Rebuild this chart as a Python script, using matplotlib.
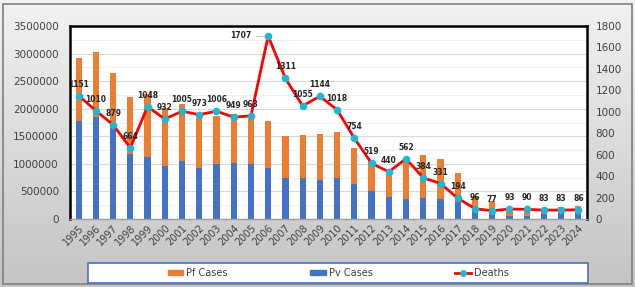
import matplotlib
matplotlib.use("Agg")
import matplotlib.pyplot as plt
import numpy as np
from matplotlib.patches import Rectangle, Patch
from matplotlib.lines import Line2D
from matplotlib.ticker import FuncFormatter
from matplotlib.colors import LinearSegmentedColormap

years = [str(y) for y in range(1995, 2025)]
pv_cases = [1780000, 1850000, 1650000, 1180000, 1130000, 970000, 1060000, 930000, 1000000, 1010000,
            1000000, 930000, 750000, 740000, 710000, 750000, 630000, 510000, 400000, 360000,
            380000, 360000, 300000, 200000, 110000, 60000, 50000, 85000, 100000, 100000]
total_cases = [2920000, 3030000, 2650000, 2210000, 2270000, 2020000, 2080000, 1830000, 1860000, 1900000,
               1810000, 1780000, 1500000, 1520000, 1550000, 1580000, 1290000, 1050000, 840000, 1080000,
               1160000, 1080000, 830000, 420000, 330000, 190000, 180000, 160000, 210000, 240000]
pf_cases = [t - v for t, v in zip(total_cases, pv_cases)]
deaths = [1151, 1010, 879, 664, 1048, 932, 1005, 973, 1006, 949, 963, 1707, 1311, 1055, 1144,
          1018, 754, 519, 440, 562, 384, 331, 194, 96, 77, 93, 90, 83, 83, 86]

W, H = 635, 287
fig = plt.figure(figsize=(W / 100, H / 100), dpi=100)

bg = fig.add_axes([0, 0, 1, 1], zorder=-10)
grad = np.linspace(0, 1, 256).reshape(-1, 1)
cm = LinearSegmentedColormap.from_list("g", ["#f2f2f2", "#c4c4c4"])
bg.imshow(grad, aspect="auto", cmap=cm, extent=[0, 1, 0, 1], origin="upper")
bg.set_xlim(0, 1); bg.set_ylim(0, 1)
bg.axis("off")
bg.add_patch(Rectangle((3 / W, 3 / H), 629 / W, 280 / H, fill=False, edgecolor="#7f7f7f", lw=1.2,
                       transform=bg.transAxes))
bg.add_patch(Rectangle((88 / W, 4 / H), 500 / W, 20 / H, facecolor="white", edgecolor="#4472C4", lw=1.2,
                       transform=bg.transAxes))

ax = fig.add_axes([70 / W, (H - 219) / H, (587 - 70) / W, (219 - 26) / H])
ax.set_facecolor("white")
x = np.arange(len(years))
ax.bar(x, pv_cases, width=0.36, color="#4472C4", zorder=2)
ax.bar(x, pf_cases, width=0.36, bottom=pv_cases, color="#ED7D31", zorder=2)
ax.set_ylim(0, 3500000)
ax.set_xlim(-0.5, len(years) - 0.5)
ax.set_yticks(np.arange(0, 3500001, 500000))
ax.set_yticks(np.arange(0, 3500001, 250000), minor=True)
ax.yaxis.set_major_formatter(FuncFormatter(lambda v, p: f"{int(v)}"))
ax.yaxis.grid(True, which="major", color="#d9d9d9", lw=0.8, zorder=0)
ax.yaxis.grid(True, which="minor", color="#ececec", lw=0.6, zorder=0)
ax.set_axisbelow(True)
ax.set_xticks(x)
ax.set_xticklabels(years, rotation=45, fontsize=7, color="#404040", ha="right", rotation_mode="anchor")
ax.tick_params(axis="y", which="both", labelsize=7.5, colors="#404040", length=0, pad=8)
ax.tick_params(axis="x", length=0, pad=3)
for s in ["left", "top", "right"]:
    ax.spines[s].set_color("black"); ax.spines[s].set_linewidth(1.8)
ax.spines["bottom"].set_color("#a0a0a0"); ax.spines["bottom"].set_linewidth(1)

ax2 = ax.twinx()
ax2.plot(x, deaths, color="#FF0000", lw=2, marker="o", markersize=4.5,
         markerfacecolor="#1FB8D0", markeredgecolor="#1FB8D0", zorder=3)
ax2.set_ylim(0, 1800)
ax2.set_yticks(np.arange(0, 1801, 200))
ax2.tick_params(axis="y", labelsize=7.5, colors="#404040", length=0, pad=6)
for s in ["left", "top", "right", "bottom"]:
    ax2.spines[s].set_visible(False)
for xi, d in zip(x, deaths):
    if d == 1707:
        ax2.plot([xi - 0.7, xi - 0.15], [d, d], color="#bfbfbf", lw=0.6, zorder=2)
        ax2.annotate(str(d), (xi, d), xytext=(-12, 0), textcoords="offset points",
                     ha="right", va="center", fontsize=5.5, fontweight="bold", color="#262626")
    else:
        ax2.annotate(str(d), (xi, d), xytext=(0, 5), textcoords="offset points",
                     ha="center", va="bottom", fontsize=5.5, fontweight="bold", color="#262626")

handles = [Patch(color="#ED7D31"), Patch(color="#4472C4"),
           Line2D([], [], color="#FF0000", lw=2, marker="o", markersize=4,
                  markerfacecolor="#1FB8D0", markeredgecolor="#1FB8D0")]
fig.legend(handles, ["Pf Cases", "Pv Cases", "Deaths"], ncol=3, loc="center",
           bbox_to_anchor=(338 / W, 14 / H), frameon=False, fontsize=7,
           columnspacing=8.5, handlelength=1.6, handleheight=0.5, handletextpad=0.3, labelcolor="#404040")

fig.savefig("out.png", dpi=100)
